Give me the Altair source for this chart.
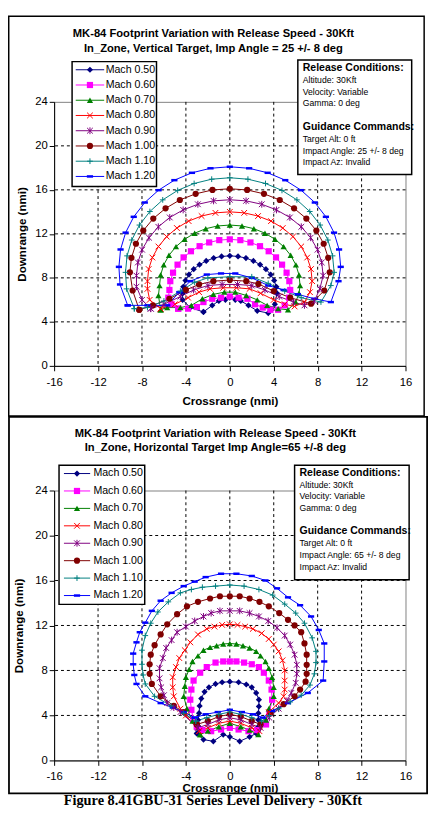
import altair as alt
import pandas as pd

FONT = "Liberation Sans, Arial, sans-serif"
SERIF = "Liberation Serif, Times New Roman, serif"

SERIES = ["Mach 0.50", "Mach 0.60", "Mach 0.70", "Mach 0.80",
          "Mach 0.90", "Mach 1.00", "Mach 1.10", "Mach 1.20"]
COLORS = ["#000080", "#FF00FF", "#008000", "#FF0000",
          "#800080", "#800000", "#008080", "#0000FF"]
SHAPES = ["diamond", "square", "triangle-up", "M-1,-1L1,1M-1,1L1,-1",
          "M-1,-1L1,1M-1,1L1,-1M0,-1.2L0,1.2", "circle",
          "M-1,0L1,0M0,-1L0,1", "M-1,-0.4L1,-0.4L1,0.4L-1,0.4Z"]
FILLED = ["Mach 0.50", "Mach 0.60", "Mach 0.70", "Mach 1.00", "Mach 1.20"]
OPEN = ["Mach 0.80", "Mach 0.90", "Mach 1.10"]

X_TICKS = [-16, -12, -8, -4, 0, 4, 8, 12, 16]
Y_TICKS = [0, 4, 8, 12, 16, 20, 24]
GRID_X = [-12, -8, -4, 0, 4, 8, 12]
GRID_Y = [4, 8, 12, 16, 20]

TOP_TITLE = ["MK-84 Footprint Variation with Release Speed - 30Kft",
             "In_Zone, Vertical Target, Imp Angle = 25 +/- 8 deg"]
BOT_TITLE = ["MK-84 Footprint Variation with Release Speed - 30Kft",
             "In_Zone, Horizontal Target Imp Angle=65 +/-8 deg"]
TOP_INFO = ["Release Conditions:", "Altitude: 30Kft", "Velocity: Variable", "Gamma: 0 deg", "",
            "Guidance Commands:", "Target Alt: 0 ft", "Impact Angle: 25 +/- 8 deg", "Impact Az: Invalid"]
BOT_INFO = ["Release Conditions:", "Altitude: 30Kft", "Velocity: Variable", "Gamma: 0 deg", "",
            "Guidance Commands:", "Target Alt: 0 ft", "Impact Angle: 65 +/- 8 deg", "Impact Az: Invalid"]
HEADERS = ["Release Conditions:", "Guidance Commands:"]
CAPTION = "Figure 8.41GBU-31 Series Level Delivery - 30Kft"
X_TITLE = "Crossrange (nmi)"
Y_TITLE = "Downrange (nmi)"

# ---------------- Top panel (vertical target, 25 deg) ----------------
T050_X = [-2.4, -1.6, -1.0, -0.4, 0.0, 0.5, 1.0, 1.7, 2.5, 3.5, 4.1,
          4.30, 4.24, 4.04, 3.72, 3.29, 2.76, 2.15, 1.47, 0.75, 0.00,
          -0.75, -1.47, -2.15, -2.76, -3.29, -3.72, -4.04, -4.24, -4.30,
          -4.3, -3.6, -2.4]
T050_Y = [4.9, 5.5, 5.9, 6.0, 6.2, 6.0, 5.9, 5.5, 5.0, 4.8, 5.6,
          6.60, 7.19, 7.76, 8.30, 8.79, 9.20, 9.54, 9.80, 9.95, 10.00,
          9.95, 9.80, 9.54, 9.20, 8.79, 8.30, 7.76, 7.19, 6.60,
          6.0, 5.3, 4.9]
T060_X = [-4.7, -3.8, -3.0, -2.4, -1.6, -0.8, 0.0, 0.8, 1.6, 2.3, 3.0, 3.7, 4.4,
          5.0, 5.4,
          5.50, 5.42, 5.17, 4.76, 4.21, 3.54, 2.75, 1.88, 0.96, 0.00,
          -0.96, -1.88, -2.75, -3.54, -4.21, -4.76, -5.17, -5.42, -5.50,
          -5.6, -5.3, -4.7]
T060_Y = [5.2, 5.2, 5.35, 5.8, 6.1, 6.2, 6.3, 6.2, 6.1, 5.6, 5.3, 5.1, 5.1,
          5.5, 6.2,
          6.90, 7.70, 8.47, 9.20, 9.86, 10.42, 10.88, 11.22, 11.43, 11.50,
          11.43, 11.22, 10.88, 10.42, 9.86, 9.20, 8.47, 7.70, 6.90,
          6.2, 5.6, 5.2]
T070_X = [-6.3, -5.7, -4.5, -3.5, -2.5, -1.5, -0.5, 0.5, 1.5, 2.5, 3.4, 4.4, 5.3,
          6.0, 6.3,
          6.40, 6.30, 6.02, 5.54, 4.90, 4.12, 3.20, 2.19, 1.11, 0.00,
          -1.11, -2.19, -3.20, -4.12, -4.90, -5.54, -6.02, -6.30, -6.40,
          -6.5, -6.3]
T070_Y = [5.1, 5.3, 5.3, 5.5, 6.1, 6.5, 6.7, 6.7, 6.4, 6.0, 5.5, 5.2, 5.1,
          5.8, 6.6,
          7.30, 8.26, 9.18, 10.05, 10.84, 11.51, 12.06, 12.47, 12.72, 12.80,
          12.72, 12.47, 12.06, 11.51, 10.84, 10.05, 9.18, 8.26, 7.30,
          6.4, 5.1]
T080_X = [-6.3, -5.0, -3.8, -2.8, -1.8, -0.6, 0.6, 1.8, 2.8, 4.0, 5.0, 5.9,
          6.8, 7.3,
          7.50, 7.39, 7.05, 6.50, 5.75, 4.82, 3.75, 2.57, 1.31, 0.00,
          -1.31, -2.57, -3.75, -4.82, -5.75, -6.50, -7.05, -7.39, -7.50,
          -7.5, -7.3, -6.3]
T080_Y = [5.2, 5.6, 6.2, 6.7, 7.0, 7.1, 7.1, 7.0, 6.6, 6.0, 5.6, 5.4,
          5.8, 6.7,
          7.70, 8.80, 9.85, 10.85, 11.75, 12.53, 13.16, 13.62, 13.91, 14.00,
          13.91, 13.62, 13.16, 12.53, 11.75, 10.85, 9.85, 8.80, 7.70,
          7.0, 6.0, 5.2]
T090_X = [-7.2, -6.0, -4.5, -3.3, -2.0, -0.7, 0.7, 2.0, 3.2, 4.5, 5.8, 6.8,
          7.7, 8.2,
          8.50, 8.37, 7.99, 7.36, 6.51, 5.47, 4.25, 2.91, 1.48, 0.00,
          -1.48, -2.91, -4.25, -5.47, -6.51, -7.36, -7.99, -8.37, -8.50,
          -8.5, -8.0, -7.2]
T090_Y = [5.2, 5.6, 6.3, 6.9, 7.3, 7.4, 7.4, 7.3, 6.9, 6.3, 5.8, 5.5,
          5.9, 7.0,
          8.20, 9.40, 10.56, 11.65, 12.64, 13.49, 14.18, 14.69, 15.00, 15.10,
          15.00, 14.69, 14.18, 13.49, 12.64, 11.65, 10.56, 9.40, 8.20,
          7.2, 6.0, 5.2]
T100_X = [-8.25, -7.0, -5.5, -4.0, -2.8, -1.5, 0.0, 1.5, 2.6, 4.0, 5.5, 7.4,
          8.6,
          9.10, 8.96, 8.55, 7.88, 6.97, 5.85, 4.55, 3.11, 1.58, 0.00,
          -1.58, -3.11, -4.55, -5.85, -6.97, -7.88, -8.55, -8.96, -9.10,
          -8.85, -8.25]
T100_Y = [5.1, 5.5, 6.1, 6.9, 7.4, 7.7, 7.8, 7.7, 7.45, 6.8, 6.2, 5.65,
          6.85,
          8.50, 9.82, 11.10, 12.30, 13.39, 14.32, 15.08, 15.64, 15.99, 16.10,
          15.99, 15.64, 15.08, 14.32, 13.39, 12.30, 11.10, 9.82, 8.50,
          6.85, 5.1]
T110_X = [-8.7, -7.5, -6.0, -4.5, -3.2, -2.0, 0.0, 2.0, 3.5, 5.0, 6.5, 8.3,
          9.2,
          9.50, 9.36, 8.93, 8.23, 7.28, 6.11, 4.75, 3.25, 1.65, 0.00,
          -1.65, -3.25, -4.75, -6.11, -7.28, -8.23, -8.93, -9.36, -9.50,
          -9.4, -8.7]
T110_Y = [5.2, 5.3, 5.9, 6.8, 7.6, 8.0, 8.1, 8.1, 7.5, 6.8, 6.2, 5.8,
          7.3,
          8.50, 10.00, 11.44, 12.80, 14.03, 15.09, 15.95, 16.58, 16.97, 17.10,
          16.97, 16.58, 15.95, 15.09, 14.03, 12.80, 11.44, 10.00, 8.50,
          7.0, 5.2]
T120_X = [-9.3, -7.5, -5.7, -4.6, -3.6, -2.1, -0.8, 0.5, 2.0, 3.5, 4.9, 6.2, 7.7, 9.2,
          9.9,
          10.10, 9.95, 9.49, 8.75, 7.74, 6.49, 5.05, 3.45, 1.76, 0.00,
          -1.76, -3.45, -5.05, -6.49, -7.74, -8.75, -9.49, -9.95, -10.10,
          -10.0, -9.3]
T120_Y = [5.5, 5.5, 5.5, 6.7, 7.7, 8.3, 8.4, 8.4, 8.0, 7.3, 6.9, 6.5, 6.1, 5.8,
          7.7,
          9.00, 10.58, 12.11, 13.55, 14.85, 15.97, 16.88, 17.55, 17.96, 18.10,
          17.96, 17.55, 16.88, 15.97, 14.85, 13.55, 12.11, 10.58, 9.00,
          7.4, 5.5]

# ---------------- Bottom panel (horizontal target, 65 deg) ----------------
B050_X = [-3.0, -2.4, -1.5, -0.6, 0.0, 0.9, 1.8, 2.4,
          2.6, 2.6, 2.6, 2.65, 2.65, 2.4, 2.0, 1.5, 0.8, 0.0,
          -0.7, -1.3, -1.9, -2.3, -2.6, -2.75, -2.8, -2.9, -2.9, -3.0]
B050_Y = [2.4, 1.85, 1.7, 2.3, 2.1, 1.7, 2.1, 2.4,
          3.0, 3.6, 4.2, 4.8, 5.4, 6.0, 6.5, 6.75, 6.95, 7.0,
          6.95, 6.8, 6.5, 6.1, 5.5, 4.85, 4.2, 3.6, 3.0, 2.4]
B060_X = [-3.0, -2.5, -1.7, -0.8, 0.0, 0.8, 1.7, 2.5, 3.3,
          3.6, 3.85, 3.8, 3.55, 3.1, 2.65, 2.0, 1.3, 0.6, 0.0,
          -0.6, -1.3, -2.1, -2.7, -3.3, -3.5, -3.6, -3.5, -3.3, -3.0]
B060_Y = [3.0, 2.7, 2.6, 2.75, 2.9, 2.75, 2.6, 2.7, 3.2,
          4.2, 5.4, 6.3, 7.1, 7.8, 8.3, 8.55, 8.7, 8.8, 8.8,
          8.8, 8.7, 8.3, 7.8, 7.1, 6.3, 5.4, 4.5, 3.6, 3.0]
B070_X = [-2.7, -2.0, -1.0, 0.0, 1.0, 1.8, 2.6,
          3.3, 3.55, 4.0, 4.0, 3.85, 3.55, 3.25, 2.8, 2.4, 1.8, 1.2, 0.6, 0.0,
          -0.6, -1.2, -1.8, -2.4, -2.9, -3.4, -3.7, -4.0, -4.1, -4.2, -3.9, -3.4, -2.7]
B070_Y = [2.3, 2.6, 3.0, 3.3, 3.0, 2.7, 2.3,
          3.6, 4.6, 5.7, 6.5, 7.4, 8.2, 8.8, 9.3, 9.7, 10.0, 10.2, 10.35, 10.4,
          10.35, 10.2, 10.05, 9.8, 9.3, 8.8, 8.1, 7.4, 6.6, 5.7, 4.6, 3.5, 2.3]
B080_X = [-2.8, -2.0, -1.0, 0.0, 1.0, 2.0, 2.7,
          3.55, 4.45, 4.9, 5.0, 5.0, 5.0, 4.8, 4.45, 4.0, 3.55, 2.9, 2.1, 1.4, 0.7, 0.0,
          -0.7, -1.4, -2.1, -2.9, -3.6, -4.1, -4.6, -4.9, -5.2, -5.2, -5.1, -4.5, -4.0, -2.8]
B080_Y = [2.6, 2.9, 3.3, 3.5, 3.3, 2.9, 2.6,
          4.3, 5.1, 5.7, 6.3, 7.1, 8.0, 8.9, 9.7, 10.3, 10.8, 11.3, 11.7, 11.9, 12.05, 12.1,
          12.05, 11.9, 11.7, 11.2, 10.5, 9.8, 9.1, 8.3, 7.4, 6.5, 5.7, 4.6, 4.0, 2.6]
B090_X = [-2.9, -2.0, -1.0, 0.0, 1.0, 2.0, 2.8,
          3.6, 4.45, 5.2, 5.6, 6.0, 6.1, 6.1, 5.9, 5.5, 5.0, 4.3, 3.5, 2.65, 1.8, 0.9, 0.0,
          -0.9, -1.7, -2.4, -3.2, -4.0, -4.8, -5.3, -5.8, -6.1, -6.4, -6.4, -6.25, -6.0,
          -5.7, -5.1, -4.5, -2.9]
B090_Y = [2.9, 3.2, 3.6, 3.8, 3.6, 3.2, 2.9,
          3.8, 4.6, 5.3, 6.0, 6.9, 7.7, 8.5, 9.4, 10.3, 11.1, 11.8, 12.4, 12.8, 13.1, 13.3, 13.3,
          13.3, 13.1, 12.8, 12.4, 11.9, 11.4, 10.7, 10.0, 9.1, 8.2, 7.3, 6.5, 5.8,
          5.1, 4.7, 4.3, 2.9]
B100_X = [-3.0, -2.0, -1.0, 0.0, 1.0, 2.0, 2.8,
          3.7, 4.9, 5.9, 6.4, 6.9, 7.0, 7.0, 7.0, 6.8, 6.5, 5.9, 5.3, 4.5, 3.55, 2.7, 1.8, 0.9, 0.0,
          -0.9, -1.8, -2.9, -3.9, -4.8, -5.7, -6.3, -6.85, -7.2, -7.3, -7.3, -7.1, -6.3, -5.1,
          -4.2, -3.0]
B100_Y = [3.2, 3.5, 3.9, 4.1, 3.9, 3.5, 3.2,
          4.2, 5.0, 5.7, 6.3, 7.0, 7.7, 8.5, 9.4, 10.4, 11.4, 12.0, 12.5, 13.1, 13.7, 14.1, 14.4, 14.6, 14.6,
          14.6, 14.4, 14.1, 13.7, 13.0, 12.1, 11.2, 10.25, 9.4, 8.55, 7.7, 6.8, 5.7, 4.85,
          4.3, 3.2]
B110_X = [-3.1, -2.1, -1.0, 0.0, 1.0, 2.0, 2.9,
          3.6, 4.45, 5.5, 6.5, 7.3, 7.7, 7.85, 7.85, 7.5, 6.8, 6.0, 5.0, 3.9, 2.65, 1.3, 0.0,
          -1.3, -2.5, -3.5, -4.5, -5.6, -6.55, -7.2, -7.7, -8.0, -8.0, -7.9, -7.7, -6.85, -5.35,
          -4.2, -3.1]
B110_Y = [3.5, 3.8, 4.1, 4.3, 4.1, 3.8, 3.5,
          4.0, 4.6, 5.2, 5.8, 6.7, 7.7, 8.7, 9.7, 10.9, 12.2, 13.1, 13.9, 14.7, 15.2, 15.5, 15.6,
          15.5, 15.4, 15.2, 14.9, 14.1, 13.2, 12.2, 11.1, 9.8, 8.55, 7.6, 6.8, 5.7, 4.85,
          4.2, 3.5]
B120_X = [-3.2, -2.2, -1.1, 0.0, 1.1, 2.1, 3.0,
          3.85, 5.3, 7.1, 8.5, 8.6, 8.6, 8.1, 7.4, 6.4, 5.3, 4.3, 3.25, 2.0, 0.6,
          -0.8, -2.2, -3.2, -4.2, -5.3, -6.3, -7.1, -7.7, -8.2, -8.5, -8.8, -8.8, -8.7, -8.5,
          -7.7, -6.3, -5.2, -4.2, -3.2]
B120_Y = [3.8, 4.1, 4.3, 4.5, 4.3, 4.1, 3.8,
          4.4, 5.1, 6.0, 7.1, 8.8, 10.4, 11.6, 12.8, 13.8, 14.5, 15.3, 16.0, 16.4, 16.6,
          16.6, 16.3, 15.9, 15.5, 14.9, 14.2, 13.3, 12.25, 11.4, 10.5, 9.5, 8.55, 7.6, 6.8,
          5.7, 5.1, 4.7, 4.3, 3.8]

TOP_SETS = [(SERIES[0], T050_X, T050_Y), (SERIES[1], T060_X, T060_Y),
            (SERIES[2], T070_X, T070_Y), (SERIES[3], T080_X, T080_Y),
            (SERIES[4], T090_X, T090_Y), (SERIES[5], T100_X, T100_Y),
            (SERIES[6], T110_X, T110_Y), (SERIES[7], T120_X, T120_Y)]
BOT_SETS = [(SERIES[0], B050_X, B050_Y), (SERIES[1], B060_X, B060_Y),
            (SERIES[2], B070_X, B070_Y), (SERIES[3], B080_X, B080_Y),
            (SERIES[4], B090_X, B090_Y), (SERIES[5], B100_X, B100_Y),
            (SERIES[6], B110_X, B110_Y), (SERIES[7], B120_X, B120_Y)]


def to_frame(sets):
    rows = []
    for name, xs, ys in sets:
        for i, (x, y) in enumerate(zip(xs, ys)):
            rows.append({"series": name, "x": x, "y": y, "i": i})
    return pd.DataFrame(rows)


ONE = pd.DataFrame({"k": [0]})
FILL_SIZE = 40
OPEN_SIZE = 34


def box(x0, x1, y0, y1, fill_op, sw):
    return alt.Chart(ONE).mark_rect(fill="white", fillOpacity=fill_op, stroke="black",
                                    strokeWidth=sw).encode(
        x=alt.value(x0), x2=alt.value(x1), y=alt.value(y0), y2=alt.value(y1))


def label(text, x, y, size, weight="normal", align="center", font=FONT):
    return alt.Chart(ONE).mark_text(text=text, font=font, fontSize=size, fontWeight=weight,
                                    align=align, baseline="middle", color="black").encode(
        x=alt.value(x), y=alt.value(y))


def panel(sets, W, H, P, titles, info, caption=None):
    df = to_frame(sets)
    common = dict(labelFont=FONT, labelFontSize=11.5, labelColor="black",
                  titleFont=FONT, titleFontSize=11.8, titleFontWeight="bold", titleColor="black",
                  domainColor="black", tickColor="black", tickSize=5, grid=False,
                  labelFlush=False, labelOverlap=False, labelExpr="'' + datum.value")
    xa = alt.Axis(values=X_TICKS, title=X_TITLE, labelPadding=P["xlpad"], titlePadding=P["xpad"], **common)
    ya = alt.Axis(values=Y_TICKS, title=Y_TITLE, labelPadding=2, titlePadding=P["ypad"], **common)
    xs = alt.Scale(domain=[-16, 16], nice=False, zero=False)
    ys = alt.Scale(domain=[0, 24], nice=False)

    def X(f):
        return alt.X(f"{f}:Q", scale=xs, axis=xa)

    def Y(f):
        return alt.Y(f"{f}:Q", scale=ys, axis=ya)

    color = alt.Color("series:N", scale=alt.Scale(domain=SERIES, range=COLORS), legend=None)
    shape = alt.Shape("series:N", scale=alt.Scale(domain=SERIES, range=SHAPES), legend=None)
    f_fill = alt.FieldOneOfPredicate(field="series", oneOf=FILLED)
    f_open = alt.FieldOneOfPredicate(field="series", oneOf=OPEN)

    layers = [box(*P["frame"], 0, P["fw"])]
    layers.append(alt.Chart(pd.DataFrame({"gx": GRID_X})).mark_rule(
        color="black", strokeDash=[3, 3], strokeWidth=1).encode(x=X("gx")))
    layers.append(alt.Chart(pd.DataFrame({"gy": GRID_Y})).mark_rule(
        color="black", strokeDash=[3, 3], strokeWidth=1).encode(y=Y("gy")))
    layers.append(alt.Chart(df).mark_line(strokeWidth=1).encode(
        x=X("x"), y=Y("y"), color=color, order=alt.Order("i:Q")))
    layers.append(alt.Chart(df).transform_filter(f_fill).mark_point(
        filled=True, size=FILL_SIZE, opacity=1).encode(x=X("x"), y=Y("y"), color=color, shape=shape))
    layers.append(alt.Chart(df).transform_filter(f_open).mark_point(
        filled=False, size=OPEN_SIZE, strokeWidth=1, opacity=1).encode(
        x=X("x"), y=Y("y"), color=color, shape=shape))
    for k, t in enumerate(titles):
        layers.append(label(t, P["tx"], P["ty"][k], 11.4, "bold"))
    layers.append(box(*P["ibox"], 1, 1.5))
    for k, t in enumerate(info):
        if not t:
            continue
        if t in HEADERS:
            layers.append(label(t, P["ix"], P["iy0"] + k * P["istep"], 10.7, "bold", "left"))
        else:
            layers.append(label(t, P["ix"], P["iy0"] + k * P["istep"], 8.8, "normal", "left"))
    if caption:
        layers.append(label(caption, P["cap"][0], P["cap"][1], 14.6, "bold", "center", SERIF))
    main = alt.layer(*layers)

    ldf = pd.DataFrame({"series": SERIES})
    ly = alt.Y("series:N", scale=alt.Scale(type="point", domain=SERIES, range=P["ly"], padding=0),
               axis=None)
    lx0, lx1, lxm, ltx = P["lx"]
    leg = alt.layer(
        box(*P["lbox"], 1, 1.5),
        alt.Chart(ldf).mark_rule(strokeWidth=1).encode(
            x=alt.value(lx0), x2=alt.value(lx1), y=ly, color=color),
        alt.Chart(ldf).transform_filter(f_fill).mark_point(filled=True, size=FILL_SIZE, opacity=1).encode(
            x=alt.value(lxm), y=ly, color=color, shape=shape),
        alt.Chart(ldf).transform_filter(f_open).mark_point(filled=False, size=OPEN_SIZE, strokeWidth=1,
                                                           opacity=1).encode(
            x=alt.value(lxm), y=ly, color=color, shape=shape),
        alt.Chart(ldf).mark_text(align="left", baseline="middle", font=FONT, fontSize=10.8,
                                 color="black").encode(x=alt.value(ltx), y=ly, text="series:N"),
    )
    return alt.layer(main, leg).resolve_scale(y="independent").properties(width=W, height=H)


# Positions below are in pixels relative to each panel's plot area.
TOP_P = dict(frame=(-46.25, 377, -87.25, 320), fw=1.5,
             tx=162.3, ty=[-69.3, -53.7],
             ibox=(248.3, 364.3, -42.7, 74), ix=253.3, iy0=-34.3, istep=12,
             lbox=(18.3, 104.3, -41, 86.3), ly=[-32.7, 76], lx=(22, 51, 36.5, 52.5),
             xlpad=6.3, xpad=7.7, ypad=7)
BOT_P = dict(frame=(-46, 380, -75, 308.5), fw=1.8,
             tx=164.3, ty=[-57.3, -43],
             ibox=(245, 361.7, -25.7, 91), ix=250, iy0=-18, istep=11.95,
             lbox=(5, 92.3, -25.7, 116), ly=[-17.3, 107], lx=(10, 36.7, 23.3, 40),
             xlpad=5, xpad=0.8, ypad=10, cap=(161.7, 316))

TOP_W, TOP_H = 358, 269
BOT_W, BOT_H = 358, 275
GAP = 127

top = panel(TOP_SETS, TOP_W, TOP_H, TOP_P, TOP_TITLE, TOP_INFO)
bot = panel(BOT_SETS, BOT_W, BOT_H, BOT_P, BOT_TITLE, BOT_INFO, CAPTION)

# With autosize "none" the page size is exactly the padding plus the view width:
# 47 + 358 + 27 = 432 wide, 88 + 720 = 808 tall.
chart = alt.vconcat(top, bot, spacing=GAP, bounds="flush").properties(
    padding={"left": 47, "top": 88, "right": 27, "bottom": 720},
    autosize=alt.AutoSizeParams(type="none"),
).configure_view(stroke="#808080", strokeWidth=1)

chart.save("out.html", embed_options={"renderer": "svg", "actions": False})
